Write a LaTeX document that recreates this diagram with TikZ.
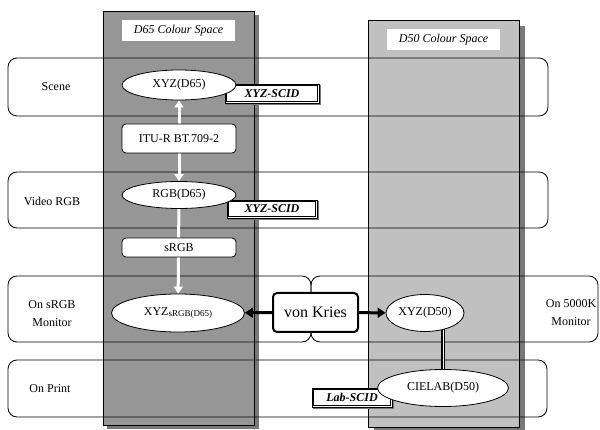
\documentclass[tikz,border=0pt]{standalone}
\usepackage{fontspec}
\setmainfont{Liberation Serif}
\usetikzlibrary{shapes.geometric,arrows.meta}
\definecolor{dsixfive}{RGB}{150,150,150}
\definecolor{dfifty}{RGB}{192,192,192}
\definecolor{shad}{RGB}{120,120,120}
\pgfdeclarelayer{back}
\pgfdeclarelayer{mid}
\pgfsetlayers{back,mid,main}
\begin{document}
\begin{tikzpicture}[x=1pt,y=-1pt, font=\fontsize{12}{14}\selectfont,
 lane/.style={draw=black, line width=0.8pt, rounded corners=9pt},
 oval/.style={ellipse, draw, fill=white, line width=0.8pt, inner sep=0pt},
 proc/.style={draw, fill=white, rounded corners=4pt, line width=0.8pt, inner sep=0pt},
 scid/.style={draw=black, line width=0.7pt, fill=white, inner sep=0pt,
   font=\fontsize{12}{14}\selectfont\bfseries\itshape},
 scidinner/.style={draw=black, line width=0.7pt},
 scidshadow/.style={fill=shad},
 spacelabel/.style={fill=white, inner sep=0pt, minimum width=113, minimum height=21, font=\fontsize{12}{14}\selectfont\itshape},
 lanelabel/.style={align=center, font=\fontsize{12}{18}\selectfont},
 warrow/.style={white, line width=3pt, {Triangle[width=9pt,length=7pt]}-{Triangle[width=9pt,length=7pt]}},
 wdown/.style={white, line width=3pt, -{Triangle[width=9pt,length=7pt]}},
 barrow/.style={black, line width=3pt, -{Triangle[width=10pt,length=8pt]}}
]
\useasboundingbox (0,0) rectangle (600,430);

\begin{pgfonlayer}{back}
% colour space columns
\fill[shad] (107,15) rectangle (259,429);
\draw[fill=dsixfive, line width=0.8pt] (103,11) rectangle (254,425);
\fill[shad] (374,26) rectangle (525,432);
\draw[fill=dfifty, line width=0.8pt] (368,20) rectangle (519,427);
% lanes
\draw[lane] (8,58) rectangle (548,116);
\draw[lane] (8,172) rectangle (548,228);
\draw[lane] (8,276) rectangle (311,342);
\draw[lane] (311,276) rectangle (598,342);
\draw[lane] (8,360) rectangle (547,417);
\end{pgfonlayer}

\node[spacelabel] (t65) at (178.5,30.5) {D65 Colour Space};
\node[spacelabel] (t50) at (443.5,39.5) {D50 Colour Space};

\node[lanelabel] (lscene) at (56,87) {Scene};
\node[lanelabel] (lvideo) at (52,201) {Video RGB};
\node[lanelabel] (lsrgb) at (52,314) {On sRGB\\Monitor};
\node[lanelabel] (lprint) at (50,389) {On Print};
\node[lanelabel] (l5000) at (571,313) {On 5000K\\Monitor};

% SCID boxes (behind ellipses)
\node[scid, minimum width=94, minimum height=19] (scid1) at (272,93.5) {XYZ-SCID};
\node[scid, minimum width=90, minimum height=18] (scid2) at (272,209) {XYZ-SCID};
\node[scid, minimum width=80, minimum height=19] (scid3) at (352,397.5) {Lab-SCID};
\foreach \s in {scid1,scid2,scid3}
  \draw[scidinner] ([shift={(2pt,-2pt)}]\s.north west) rectangle ([shift={(-2pt,2pt)}]\s.south east);

% processing boxes
\node[proc, minimum width=114, minimum height=29] (itu) at (179,138.5) {ITU-R BT.709-2};
\node[proc, minimum width=114, minimum height=19] (srgb) at (179,247.5) {sRGB};
\node[proc, line width=2pt, minimum width=85, minimum height=39, font=\fontsize{16}{18}\selectfont] (vk) at (315.5,312.5) {von Kries};

% ellipses
\node[oval, minimum width=114, minimum height=30] (xyz65) at (179,85) {XYZ(D65)};
\node[oval, minimum width=114, minimum height=27] (rgb65) at (179,195) {RGB(D65)};
\node[oval, minimum width=133, minimum height=38] (xyzs) at (178,313) {XYZ\raisebox{-1.5pt}{\fontsize{9}{10}\selectfont sRGB(D65)}};
\node[oval, minimum width=78, minimum height=37] (xyz50) at (425,313) {XYZ(D50)};
\node[oval, minimum width=131, minimum height=37] (lab50) at (443,388) {CIELAB(D50)};

\begin{pgfonlayer}{mid}
\foreach \s in {scid1,scid2,scid3}
  \fill[scidshadow] ([shift={(1.5pt,-1.5pt)}]\s.north west) rectangle ([shift={(1.5pt,-1.5pt)}]\s.south east);
\draw[warrow] (xyz65) -- (rgb65);
\draw[wdown] (rgb65) -- (xyzs);
\draw[barrow] (vk) -- (xyzs);
\draw[barrow] (vk) -- (xyz50);
\draw[line width=1.4pt, double=white, double distance=1pt] (lab50.center |- xyz50.center) -- (lab50.center);
\end{pgfonlayer}
\end{tikzpicture}
\end{document}
